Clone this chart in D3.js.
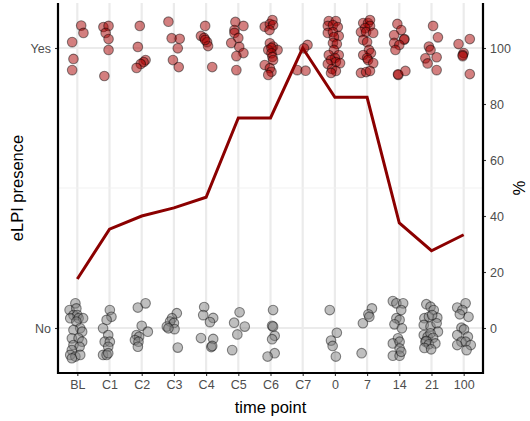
<!DOCTYPE html>
<html>
<head>
<meta charset="utf-8">
<script src="https://cdn.jsdelivr.net/npm/d3@7"></script>
<style>
  body { margin: 0; background: #fff; }
  svg { font-family: "Liberation Sans", Arial, sans-serif; }
</style>
</head>
<body>
<svg id="chart" width="530" height="421"></svg>
<script>
// time points on the x axis
var timePoints = ["BL", "C1", "C2", "C3", "C4", "C5", "C6", "C7", "0", "7", "14", "21", "100"];

// % with eLPI present at each time point (right axis)
var percentPresent = [17.5, 35.3, 40, 42.9, 46.7, 75, 75, 100, 82.4, 82.4, 37.5, 27.6, 33.3];

// jittered observations: [x jitter (bands), presence on the % scale; 100 = Yes, 0 = No]
var yesPoints = {
  "BL": [[0.12,108],[0.19,105.4],[-0.16,102.1],[-0.12,96.1],[-0.16,92.1]],
  "C1": [[-0.19,107.5],[-0.03,107.9],[-0.12,105.4],[-0.03,103.2],[-0.03,99.3],[-0.16,90]],
  "C2": [[-0.06,107.9],[-0.12,100.4],[0.12,95.7],[0.06,95],[-0.03,94.3],[-0.16,92.9]],
  "C3": [[-0.17,109.4],[-0.07,103.5],[0.18,103.3],[0.12,99.9],[-0.03,95.7],[0.15,93.2]],
  "C4": [[-0.03,107.9],[-0.16,104.3],[-0.06,103.6],[0.03,102.1],[0.06,100.7],[-0.03,102.9],[0.19,93.2]],
  "C5": [[-0.09,109.3],[0.16,107.9],[-0.12,106.4],[-0.12,105.4],[0,103.6],[-0.22,101.8],[0.03,100.4],[0.16,98.2],[-0.06,97.1],[-0.06,92.1]],
  "C6": [[-0.18,107.6],[-0.02,108.6],[0.06,110],[0.08,108.2],[-0.03,106.4],[-0.02,101.7],[0.08,100.5],[-0.07,99.3],[0.22,99.3],[0.03,100],[0.03,98.1],[0.06,96.8],[0.08,95.7],[-0.18,93.9],[-0.02,92.8],[0.03,91.5],[-0.07,90.4]],
  "C7": [[0.15,101.1],[0.04,99.9],[-0.17,92.1],[0.09,91.9]],
  "0":  [[-0.19,109.6],[0.03,109.6],[-0.22,107.9],[-0.06,108.2],[0.09,107.5],[-0.22,105.4],[-0.06,105.7],[0.12,104.3],[-0.03,103.9],[-0.06,101.8],[0.06,101.4],[-0.03,99.3],[-0.19,97.5],[0.12,97.5],[0,96.4],[-0.12,95.7],[0.03,95],[-0.22,94.3],[0.16,94.6],[-0.09,92.5],[0.03,91.8],[-0.12,91.1]],
  "7":  [[-0.12,108.9],[0.03,108.9],[0.09,110],[0.09,107.9],[-0.06,107.1],[-0.19,105.7],[-0.03,105.7],[0.19,105.4],[-0.12,102.9],[0,102.1],[0.06,99.3],[0.12,98.2],[-0.12,97.5],[0,96.4],[0.03,95.7],[0.19,94.6],[-0.19,91.1],[-0.03,91.4],[0.09,91.8]],
  "14": [[-0.06,108.6],[0.06,106.4],[-0.16,104.6],[0.16,103.2],[0.15,103],[-0.16,101.8],[0,101.1],[-0.12,99.3],[-0.03,90.4],[-0.04,90.6],[0.19,91.8]],
  "21": [[0.05,107.9],[0.2,103.8],[-0.08,100.5],[-0.03,99.3],[0.16,96.7],[-0.19,96.3],[-0.12,94.5],[0.16,92.1]],
  "100": [[-0.16,101.4],[0.19,103.2],[0,98.2],[-0.03,97.5],[-0.03,97.1],[0.19,90.7]]
};

var noPoints = {
  "BL": [[-0.24,6.4],[-0.06,8.8],[-0.03,7],[-0.12,4.6],[0,4.6],[-0.22,3.5],[0.04,3.5],[0.18,3.5],[-0.03,2.3],[0.09,-0.1],[-0.12,-0.7],[0.15,-1.3],[-0.17,-3.7],[0.04,-3.7],[0.15,-4.9],[-0.12,-6.1],[0.07,-6.7],[-0.17,-7.9],[-0.22,-9.6],[-0.06,-10.2],[0.09,-9.6],[-0.17,-10.8]],
  "C1": [[0.01,6.4],[0.06,4],[-0.09,2.9],[-0.2,-0.1],[-0.04,-2.5],[-0.15,-4.9],[0.01,-4.9],[-0.04,-6.7],[-0.2,-9.6],[-0.09,-9.6],[-0.04,-9]],
  "C2": [[-0.12,7.3],[0.12,8.8],[0,0.8],[0.19,-1.3],[-0.16,-2.5],[-0.08,-3.1],[-0.21,-4.3],[-0.1,-4.9],[-0.12,-6.7]],
  "C3": [[0.09,5.3],[-0.06,3.5],[-0.12,2.3],[0,1.8],[-0.22,0.5],[0.02,-0.4],[-0.17,-0.1],[0.12,-7]],
  "C4": [[-0.06,7.5],[-0.09,4.6],[0.22,3.6],[0.12,2.1],[-0.16,-3.6],[0.22,-3.9],[0.16,-6.8],[0.19,-6.4]],
  "C5": [[0.04,5.6],[-0.13,1.9],[0.2,0.5],[-0.03,-2.3],[-0.19,-7.9]],
  "C6": [[0.08,6.4],[0.05,0.8],[0.08,0.5],[0.13,-2.8],[0.05,-4],[0.13,-9],[-0.09,-10.2]],
  "C7": [],
  "0":  [[-0.16,6.4],[0.06,-1.7],[-0.12,-4.5],[-0.07,-6.4],[0.03,-10.2]],
  "7":  [[0.15,7],[0.04,4.9],[0.07,4],[-0.13,1.7],[-0.17,-9]],
  "14": [[-0.2,9.6],[-0.09,8.8],[0.12,8.8],[0.06,6.4],[-0.09,3.5],[0.01,2.9],[-0.15,1.3],[0.08,-0.1],[-0.04,-3.7],[-0.2,-5.5],[0.01,-4.9],[0.01,-7.3],[-0.2,-9.9],[0.01,-9.9],[0.06,-8.5]],
  "21": [[-0.16,8.5],[-0.03,7.6],[0.07,6.4],[0.18,3.7],[-0.22,3.5],[-0.08,4],[0.02,4.6],[-0.24,1.1],[-0.03,0.5],[0.16,1.7],[0.2,-1.3],[-0.24,-2.5],[-0.12,-3.1],[-0.03,-1.9],[0.05,-3.5],[-0.19,-4.9],[-0.16,-4.6],[-0.08,-5.8],[0.12,-5.5],[-0.22,-7.1],[-0.01,-7.6]],
  "100": [[-0.2,7.3],[0.06,8.8],[-0.04,6.4],[0.15,4],[-0.12,4.9],[-0.07,0.1],[0.01,-0.5],[-0.2,-2.5],[0.13,-3.1],[-0.07,-4.9],[0.06,-4.9],[-0.2,-6.1],[0.22,-6.1],[0.09,-7.9]]
};

var presenceLabels = ["No", "Yes"];
var percentTicks = [0, 20, 40, 60, 80, 100];

var svg = d3.select("#chart");
var plotLeft = 58, plotRight = 483, plotTop = 3, plotBottom = 373;

var x = d3.scalePoint().domain(timePoints).range([plotLeft, plotRight]).padding(0.6);
// % scale; "No" sits at 0 and "Yes" at 100
var y = d3.scaleLinear().domain([0, 100]).range([328, 48]);
var step = x.step();

// grid
var grid = svg.append("g");
grid.selectAll("line.v").data(timePoints).enter().append("line")
    .attr("x1", function(d) { return x(d); }).attr("x2", function(d) { return x(d); })
    .attr("y1", plotTop).attr("y2", plotBottom)
    .attr("stroke", "#ebebeb").attr("stroke-width", 2.2);
grid.selectAll("line.h").data([0, 100]).enter().append("line")
    .attr("x1", plotLeft).attr("x2", plotRight)
    .attr("y1", function(d) { return y(d); }).attr("y2", function(d) { return y(d); })
    .attr("stroke", "#ebebeb").attr("stroke-width", 2.2);
grid.append("line")
    .attr("x1", plotLeft).attr("x2", plotRight)
    .attr("y1", y(50)).attr("y2", y(50))
    .attr("stroke", "#f2f2f2").attr("stroke-width", 1.1);

function flatten(obj) {
  var out = [];
  timePoints.forEach(function(t) {
    obj[t].forEach(function(p) { out.push({t: t, dx: p[0], v: p[1]}); });
  });
  return out;
}

// No points
svg.append("g").selectAll("circle").data(flatten(noPoints)).enter().append("circle")
    .attr("cx", function(d) { return x(d.t) + d.dx * step; })
    .attr("cy", function(d) { return y(d.v); })
    .attr("r", 4.8)
    .attr("fill", "#808080").attr("fill-opacity", 0.5)
    .attr("stroke", "#000").attr("stroke-opacity", 0.45).attr("stroke-width", 1.1);

// Yes points
svg.append("g").selectAll("circle").data(flatten(yesPoints)).enter().append("circle")
    .attr("cx", function(d) { return x(d.t) + d.dx * step; })
    .attr("cy", function(d) { return y(d.v); })
    .attr("r", 4.8)
    .attr("fill", "#a80000").attr("fill-opacity", 0.5)
    .attr("stroke", "#000").attr("stroke-opacity", 0.45).attr("stroke-width", 1.1);

// percentage line
var line = d3.line()
    .x(function(d, i) { return x(timePoints[i]); })
    .y(function(d) { return y(d); });
svg.append("path").datum(percentPresent)
    .attr("d", line)
    .attr("fill", "none").attr("stroke", "#8b0000").attr("stroke-width", 3);

// axes
var xAxis = svg.append("g").attr("transform", "translate(0," + plotBottom + ")")
    .call(d3.axisBottom(x).tickSize(3).tickPadding(4));
var yAxisL = svg.append("g").attr("transform", "translate(" + plotLeft + ",0)")
    .call(d3.axisLeft(d3.scalePoint().domain(presenceLabels).range([y(0), y(100)])).tickSize(3).tickPadding(4));
var yAxisR = svg.append("g").attr("transform", "translate(" + plotRight + ",0)")
    .call(d3.axisRight(y).tickValues(percentTicks).tickSize(3).tickPadding(4));

[xAxis, yAxisL, yAxisR].forEach(function(g) {
  g.select(".domain").remove();
  g.selectAll(".tick line").attr("stroke", "#333").attr("stroke-width", 1.1);
  g.selectAll(".tick text").attr("fill", "#4d4d4d").style("font-size", "12.5px")
    .style("font-family", "'Liberation Sans', Arial, sans-serif");
});

// axis lines
svg.append("line").attr("x1", plotLeft).attr("x2", plotLeft).attr("y1", plotTop).attr("y2", plotBottom + 1)
    .attr("stroke", "#000").attr("stroke-width", 2.2);
svg.append("line").attr("x1", plotLeft - 1).attr("x2", plotRight + 1).attr("y1", plotBottom).attr("y2", plotBottom)
    .attr("stroke", "#000").attr("stroke-width", 2.2);
svg.append("line").attr("x1", plotRight).attr("x2", plotRight).attr("y1", plotTop).attr("y2", plotBottom + 1)
    .attr("stroke", "#000").attr("stroke-width", 2.2);

// titles
svg.append("text").attr("x", (plotLeft + plotRight) / 2).attr("y", 413)
    .attr("text-anchor", "middle").style("font-size", "16.5px").text("time point");
svg.append("text").attr("transform", "translate(23," + (plotTop + plotBottom) / 2 + ") rotate(-90)")
    .attr("text-anchor", "middle").style("font-size", "16.5px").text("eLPI presence");
svg.append("text").attr("transform", "translate(513," + (plotTop + plotBottom) / 2 + ") rotate(90)")
    .attr("text-anchor", "middle").style("font-size", "16.5px").text("%");
</script>
</body>
</html>
